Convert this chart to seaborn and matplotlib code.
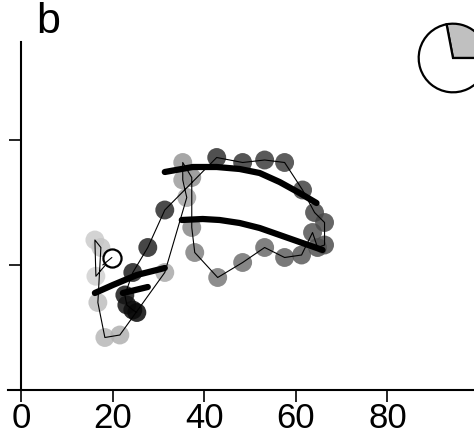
import matplotlib
matplotlib.use("Agg")
import matplotlib.pyplot as plt
import seaborn as sns
import pandas as pd

# trajectory points, in time order (x, y)
traj_x = [16.35, 16.13, 17.44, 16.78, 18.31, 21.58, 31.39, 36.19, 35.31, 35.31,
          37.28, 37.28, 37.93, 42.94, 48.39, 53.19, 57.55, 61.25, 63.65, 64.74,
          66.27, 66.27, 64.09, 61.47, 57.55, 53.19, 48.39, 42.73, 31.39, 27.68,
          24.41, 22.67, 23.11, 24.41, 25.29]
traj_y = [0.91, 1.20, 1.14, 0.70, 0.42, 0.44, 0.94, 1.54, 1.68, 1.82,
          1.70, 1.30, 1.10, 0.90, 1.02, 1.14, 1.06, 1.08, 1.26, 1.14,
          1.16, 1.34, 1.42, 1.60, 1.82, 1.84, 1.82, 1.86, 1.44, 1.14,
          0.94, 0.76, 0.68, 0.64, 0.62]

# start marker
start_x, start_y = 19.84, 1.06

# fitted arcs
upper_x = [31.39, 37.49, 42.73, 47.74, 52.10, 56.46, 60.82, 64.52]
upper_y = [1.744, 1.784, 1.784, 1.768, 1.736, 1.664, 1.576, 1.496]
lower_x = [35.10, 39.67, 43.38, 47.74, 52.10, 56.46, 60.82, 65.83]
lower_y = [1.36, 1.368, 1.36, 1.336, 1.296, 1.24, 1.184, 1.12]
left_x = [16.13, 20.05, 25.29, 31.39]
left_y = [0.776, 0.84, 0.92, 0.976]
short_x = [22.23, 27.68]
short_y = [0.776, 0.824]

# pie inset
pie_vals = [28, 72]

df = pd.DataFrame({"x": traj_x, "y": traj_y, "step": range(len(traj_x))})

sns.set_style("white")
plt.rcParams["font.family"] = ["Liberation Sans", "DejaVu Sans"]
plt.rcParams["text.color"] = "black"
plt.rcParams["xtick.color"] = "black"
plt.rcParams["ytick.color"] = "black"

fig = plt.figure(figsize=(4.74, 4.36), dpi=100)
ax = fig.add_axes([8 / 474, 46 / 436, 466 / 474, 348 / 436])

cmap = sns.blend_palette(["#d2d2d2", "#9a9a9a", "#5a5a5a", "#3a3a3a", "#080808"], as_cmap=True)
sns.scatterplot(data=df, x="x", y="y", hue="step", palette=cmap, s=185,
                alpha=0.85, edgecolor="none", legend=False, ax=ax, zorder=2)
ax.plot([start_x] + traj_x, [start_y] + traj_y, color="black", lw=0.8, zorder=3)
ax.scatter([start_x], [start_y], s=170, facecolor="white", edgecolor="black",
           linewidth=1.6, zorder=4)
ax.plot([start_x, traj_x[0] + 1.5], [start_y, start_y - 0.06], color="black", lw=0.8, zorder=5)

for cx, cy in [(upper_x, upper_y), (lower_x, lower_y), (left_x, left_y), (short_x, short_y)]:
    ax.plot(cx, cy, color="black", lw=4.5, solid_capstyle="round", zorder=5)

ax.set_xlim(-2.84, 98.9)
ax.set_ylim(0, 2.784)
ax.set_xticks([0, 20, 40, 60, 80])
ax.set_yticks([1, 2])
ax.set_yticklabels([])
ax.set_xlabel("")
ax.set_ylabel("")
ax.spines["top"].set_visible(False)
ax.spines["right"].set_visible(False)
ax.spines["left"].set_position(("data", 0))
for s in ["left", "bottom"]:
    ax.spines[s].set_linewidth(1.5)
    ax.spines[s].set_color("black")
ax.tick_params(axis="x", direction="out", length=8.5, width=1.2, labelsize=25, pad=0,
               bottom=True)
ax.tick_params(axis="y", direction="out", length=9, width=1.2, left=True)

fig.text(48 / 474, 1 - 22 / 436, "b", fontsize=31, ha="center", va="center")

pax = fig.add_axes([418 / 474, (436 - 93) / 436, 70 / 474, 70 / 436])
pax.pie(pie_vals, colors=["#c0c0c0", "white"], startangle=0, counterclock=True,
        wedgeprops={"edgecolor": "black", "linewidth": 1.6})
pax.set_xlim(-1.02, 1.02)
pax.set_ylim(-1.02, 1.02)
pax.set_aspect("equal")

fig.savefig("out.png", dpi=100)
